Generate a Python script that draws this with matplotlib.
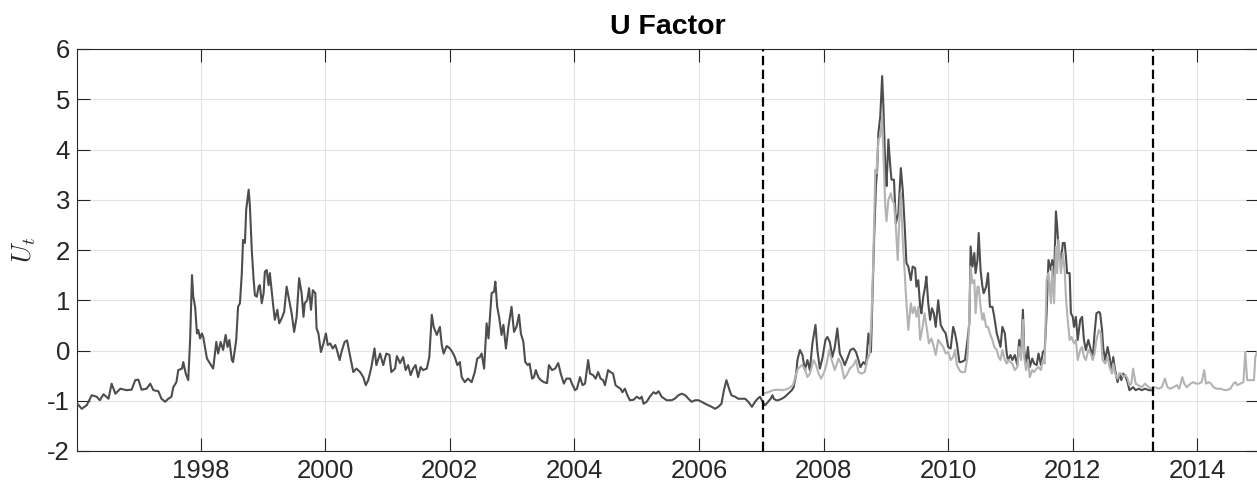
import matplotlib
matplotlib.use("Agg")
import matplotlib.pyplot as plt

# dark series: full-sample estimate (decimal years, U_t)
dark_years = [
    1996.02, 1996.09, 1996.17, 1996.25, 1996.33, 1996.38, 1996.44, 1996.52, 1996.57, 1996.63,
    1996.71, 1996.81, 1996.89, 1996.95, 1997.00, 1997.05, 1997.13, 1997.19, 1997.24, 1997.32,
    1997.37, 1997.43, 1997.48, 1997.53, 1997.56, 1997.61, 1997.64, 1997.70, 1997.72, 1997.76,
    1997.80, 1997.83, 1997.86, 1997.88, 1997.91, 1997.94, 1997.96, 1997.99, 1998.02, 1998.04,
    1998.10, 1998.15, 1998.20, 1998.25, 1998.28, 1998.32, 1998.36, 1998.40, 1998.43, 1998.46,
    1998.50, 1998.52, 1998.57, 1998.60, 1998.63, 1998.66, 1998.68, 1998.71, 1998.73, 1998.77,
    1998.79, 1998.82, 1998.85, 1998.87, 1998.90, 1998.93, 1998.95, 1998.98, 1999.01, 1999.03,
    1999.06, 1999.09, 1999.11, 1999.16, 1999.19, 1999.23, 1999.26, 1999.30, 1999.34, 1999.38,
    1999.42, 1999.46, 1999.50, 1999.54, 1999.58, 1999.62, 1999.65, 1999.67, 1999.71, 1999.74,
    1999.77, 1999.80, 1999.84, 1999.86, 1999.89, 1999.93, 1999.97, 2000.01, 2000.04, 2000.08,
    2000.12, 2000.16, 2000.18, 2000.23, 2000.26, 2000.31, 2000.35, 2000.39, 2000.45, 2000.50,
    2000.56, 2000.61, 2000.65, 2000.69, 2000.74, 2000.79, 2000.82, 2000.88, 2000.93, 2000.98,
    2001.03, 2001.06, 2001.12, 2001.15, 2001.20, 2001.25, 2001.29, 2001.33, 2001.37, 2001.41,
    2001.45, 2001.49, 2001.53, 2001.57, 2001.63, 2001.67, 2001.71, 2001.74, 2001.79, 2001.84,
    2001.87, 2001.90, 2001.95, 2002.00, 2002.04, 2002.08, 2002.12, 2002.16, 2002.19, 2002.24,
    2002.29, 2002.35, 2002.40, 2002.44, 2002.48, 2002.51, 2002.55, 2002.59, 2002.62, 2002.67,
    2002.71, 2002.73, 2002.76, 2002.79, 2002.83, 2002.86, 2002.90, 2002.94, 2002.99, 2003.03,
    2003.07, 2003.11, 2003.14, 2003.18, 2003.21, 2003.25, 2003.28, 2003.32, 2003.35, 2003.38,
    2003.42, 2003.46, 2003.51, 2003.56, 2003.59, 2003.64, 2003.69, 2003.74, 2003.78, 2003.83,
    2003.87, 2003.93, 2003.96, 2004.01, 2004.04, 2004.09, 2004.13, 2004.17, 2004.22, 2004.25,
    2004.30, 2004.34, 2004.38, 2004.42, 2004.46, 2004.49, 2004.54, 2004.58, 2004.62, 2004.66,
    2004.70, 2004.74, 2004.77, 2004.81, 2004.85, 2004.89, 2004.95, 2005.00, 2005.05, 2005.08,
    2005.11, 2005.16, 2005.21, 2005.27, 2005.31, 2005.35, 2005.40, 2005.48, 2005.56, 2005.61,
    2005.67, 2005.72, 2005.78, 2005.83, 2005.88, 2005.94, 2005.99, 2006.04, 2006.10, 2006.15,
    2006.20, 2006.26, 2006.31, 2006.36, 2006.40, 2006.44, 2006.49, 2006.52, 2006.58, 2006.63,
    2006.68, 2006.74, 2006.79, 2006.85, 2006.90, 2006.94, 2006.98, 2007.02, 2007.06, 2007.11,
    2007.15, 2007.18, 2007.20, 2007.24, 2007.27, 2007.33, 2007.38, 2007.43, 2007.49, 2007.52,
    2007.56, 2007.58, 2007.62, 2007.66, 2007.70, 2007.74, 2007.78, 2007.82, 2007.87, 2007.90,
    2007.94, 2007.98, 2008.03, 2008.06, 2008.10, 2008.14, 2008.18, 2008.22, 2008.26, 2008.31,
    2008.34, 2008.39, 2008.43, 2008.48, 2008.52, 2008.56, 2008.59, 2008.64, 2008.68, 2008.72,
    2008.76, 2008.78, 2008.81, 2008.84, 2008.86, 2008.88, 2008.91, 2008.94, 2008.96, 2008.99,
    2009.01, 2009.04, 2009.07, 2009.09, 2009.13, 2009.16, 2009.20, 2009.24, 2009.27, 2009.30,
    2009.33, 2009.36, 2009.40, 2009.43, 2009.47, 2009.49, 2009.52, 2009.55, 2009.57, 2009.60,
    2009.63, 2009.65, 2009.68, 2009.71, 2009.74, 2009.77, 2009.80, 2009.84, 2009.88, 2009.92,
    2009.96, 2010.00, 2010.04, 2010.08, 2010.11, 2010.14, 2010.18, 2010.21, 2010.27, 2010.31,
    2010.34, 2010.36, 2010.39, 2010.42, 2010.44, 2010.47, 2010.49, 2010.52, 2010.55, 2010.57,
    2010.61, 2010.64, 2010.67, 2010.71, 2010.74, 2010.78, 2010.81, 2010.84, 2010.87, 2010.91,
    2010.94, 2010.96, 2011.00, 2011.03, 2011.07, 2011.11, 2011.14, 2011.17, 2011.20, 2011.22,
    2011.25, 2011.28, 2011.31, 2011.35, 2011.38, 2011.42, 2011.45, 2011.49, 2011.52, 2011.55,
    2011.58, 2011.61, 2011.65, 2011.67, 2011.70, 2011.73, 2011.75, 2011.77, 2011.81, 2011.84,
    2011.87, 2011.89, 2011.91, 2011.95, 2011.97, 2012.00, 2012.02, 2012.05, 2012.08, 2012.12,
    2012.15, 2012.18, 2012.21, 2012.25, 2012.29, 2012.32, 2012.35, 2012.38, 2012.42, 2012.44,
    2012.47, 2012.49, 2012.52, 2012.56, 2012.59, 2012.63, 2012.65, 2012.68, 2012.72, 2012.75,
    2012.78, 2012.81, 2012.85, 2012.88, 2012.91, 2012.94, 2012.97, 2013.01, 2013.06, 2013.11,
    2013.16, 2013.22, 2013.29,
]
dark_vals = [
    -1.06, -1.16, -1.09, -0.89, -0.92, -0.99, -0.87, -0.96, -0.66, -0.86,
    -0.76, -0.79, -0.78, -0.59, -0.58, -0.78, -0.76, -0.66, -0.79, -0.81,
    -0.96, -1.02, -0.96, -0.92, -0.73, -0.63, -0.39, -0.36, -0.23, -0.46,
    -0.59, 0.21, 1.50, 1.07, 0.87, 0.34, 0.41, 0.24, 0.34, 0.27,
    -0.16, -0.26, -0.36, 0.17, -0.06, 0.17, 0.01, 0.31, 0.07, 0.21,
    -0.19, -0.23, 0.21, 0.87, 0.94, 1.54, 2.20, 2.14, 2.80, 3.20,
    2.87, 2.00, 1.40, 1.10, 1.07, 1.27, 1.30, 0.94, 1.14, 1.57,
    1.60, 1.30, 1.54, 0.94, 0.61, 0.81, 0.54, 0.64, 0.77, 1.27,
    1.00, 0.74, 0.37, 0.67, 1.44, 1.14, 0.67, 0.94, 1.00, 1.24,
    0.81, 1.20, 1.14, 0.44, 0.34, -0.03, 0.14, 0.34, 0.11, 0.14,
    0.04, 0.11, 0.04, -0.19, -0.03, 0.17, 0.20, -0.06, -0.43, -0.36,
    -0.43, -0.53, -0.69, -0.59, -0.33, 0.04, -0.29, -0.06, -0.29, -0.06,
    -0.09, -0.43, -0.36, -0.11, -0.25, -0.13, -0.39, -0.29, -0.49, -0.36,
    -0.29, -0.53, -0.33, -0.39, -0.36, -0.13, 0.71, 0.47, 0.31, 0.47,
    0.11, -0.06, 0.09, 0.04, -0.03, -0.13, -0.29, -0.23, -0.53, -0.63,
    -0.56, -0.63, -0.43, -0.16, -0.13, -0.06, -0.36, 0.54, 0.24, 1.14,
    1.17, 1.37, 0.87, 0.67, 0.31, 0.51, 0.04, 0.47, 0.87, 0.37,
    0.47, 0.71, 0.34, 0.17, -0.23, -0.29, -0.26, -0.56, -0.53, -0.39,
    -0.53, -0.59, -0.63, -0.65, -0.29, -0.39, -0.36, -0.25, -0.46, -0.66,
    -0.56, -0.56, -0.66, -0.79, -0.76, -0.53, -0.69, -0.66, -0.19, -0.46,
    -0.49, -0.56, -0.43, -0.56, -0.59, -0.69, -0.39, -0.43, -0.46, -0.69,
    -0.73, -0.76, -0.83, -0.76, -0.89, -0.99, -0.98, -0.92, -0.96, -0.92,
    -1.06, -1.02, -0.92, -0.83, -0.86, -0.81, -0.92, -0.99, -0.99, -0.96,
    -0.89, -0.86, -0.89, -0.96, -1.02, -0.99, -0.99, -1.02, -1.06, -1.09,
    -1.12, -1.16, -1.12, -1.06, -0.79, -0.59, -0.79, -0.89, -0.92, -0.96,
    -0.96, -0.96, -1.02, -1.12, -1.02, -0.96, -0.92, -1.02, -1.09, -1.02,
    -0.96, -0.89, -0.96, -0.99, -0.99, -0.96, -0.92, -0.86, -0.79, -0.73,
    -0.46, -0.19, 0.01, -0.09, -0.39, -0.19, -0.39, 0.14, 0.51, 0.01,
    -0.36, -0.16, 0.21, 0.27, 0.17, -0.13, 0.07, 0.44, -0.06, -0.19,
    -0.29, -0.13, 0.01, 0.04, -0.03, -0.19, -0.33, -0.23, -0.29, 0.34,
    -0.03, 0.87, 2.20, 3.27, 3.60, 4.33, 4.66, 5.46, 4.86, 3.67,
    3.27, 4.20, 3.67, 3.40, 3.40, 2.53, 2.73, 3.63, 3.20, 2.53,
    1.74, 1.67, 1.40, 1.67, 1.64, 1.27, 1.40, 0.87, 0.74, 1.07,
    1.27, 1.47, 0.94, 0.61, 0.84, 0.74, 0.47, 1.00, 0.51, 0.41,
    0.34, 0.07, 0.04, 0.47, 0.34, 0.14, -0.23, -0.23, -0.19, 0.21,
    0.54, 2.07, 1.67, 1.94, 1.54, 1.80, 2.34, 1.60, 1.27, 1.14,
    1.27, 1.54, 0.87, 0.87, 0.67, 0.34, 0.21, 0.07, 0.47, 0.34,
    -0.06, -0.19, -0.09, -0.19, -0.09, -0.29, 0.21, -0.06, 0.81, 0.01,
    -0.29, 0.07, -0.33, -0.16, -0.26, -0.29, -0.06, -0.29, -0.03, 0.01,
    0.74, 1.80, 1.60, 1.80, 1.44, 2.77, 2.47, 2.07, 1.74, 2.14,
    2.14, 1.87, 1.54, 1.54, 0.74, 0.67, 0.47, 0.67, 0.21, 0.61,
    0.67, 0.21, 0.01, 0.21, 0.01, -0.16, 0.34, 0.74, 0.77, 0.74,
    0.41, 0.04, -0.19, 0.07, -0.13, -0.39, -0.13, -0.39, -0.63, -0.46,
    -0.59, -0.46, -0.53, -0.63, -0.79, -0.76, -0.73, -0.79, -0.76, -0.79,
    -0.76, -0.79, -0.79,
]

# light series: recursive / out-of-sample estimate
light_years = [
    2007.03, 2007.11, 2007.19, 2007.27, 2007.35, 2007.43, 2007.51, 2007.56, 2007.59, 2007.65,
    2007.70, 2007.74, 2007.78, 2007.84, 2007.88, 2007.92, 2007.96, 2008.01, 2008.05, 2008.09,
    2008.13, 2008.18, 2008.24, 2008.28, 2008.33, 2008.37, 2008.42, 2008.48, 2008.52, 2008.56,
    2008.61, 2008.66, 2008.70, 2008.74, 2008.77, 2008.80, 2008.83, 2008.85, 2008.88, 2008.91,
    2008.94, 2008.96, 2008.99, 2009.01, 2009.04, 2009.08, 2009.10, 2009.13, 2009.16, 2009.19,
    2009.22, 2009.24, 2009.27, 2009.30, 2009.32, 2009.36, 2009.40, 2009.43, 2009.46, 2009.49,
    2009.52, 2009.55, 2009.59, 2009.62, 2009.66, 2009.69, 2009.73, 2009.77, 2009.80, 2009.84,
    2009.88, 2009.92, 2009.96, 2010.00, 2010.04, 2010.08, 2010.11, 2010.14, 2010.18, 2010.21,
    2010.27, 2010.31, 2010.34, 2010.36, 2010.39, 2010.42, 2010.44, 2010.47, 2010.49, 2010.52,
    2010.55, 2010.57, 2010.61, 2010.64, 2010.67, 2010.71, 2010.74, 2010.78, 2010.81, 2010.84,
    2010.87, 2010.91, 2010.94, 2010.96, 2011.00, 2011.03, 2011.07, 2011.11, 2011.14, 2011.17,
    2011.20, 2011.22, 2011.25, 2011.28, 2011.31, 2011.35, 2011.38, 2011.42, 2011.45, 2011.49,
    2011.52, 2011.55, 2011.58, 2011.61, 2011.65, 2011.67, 2011.70, 2011.73, 2011.75, 2011.77,
    2011.81, 2011.84, 2011.87, 2011.89, 2011.91, 2011.95, 2011.98, 2012.02, 2012.05, 2012.08,
    2012.12, 2012.15, 2012.18, 2012.21, 2012.25, 2012.29, 2012.32, 2012.35, 2012.38, 2012.42,
    2012.45, 2012.48, 2012.52, 2012.56, 2012.59, 2012.63, 2012.65, 2012.68, 2012.72, 2012.75,
    2012.78, 2012.81, 2012.85, 2012.88, 2012.91, 2012.94, 2012.97, 2013.01, 2013.05, 2013.11,
    2013.16, 2013.22, 2013.27, 2013.32, 2013.38, 2013.43, 2013.48, 2013.52, 2013.56, 2013.62,
    2013.67, 2013.71, 2013.76, 2013.79, 2013.83, 2013.89, 2013.94, 2013.98, 2014.02, 2014.07,
    2014.11, 2014.14, 2014.18, 2014.22, 2014.26, 2014.31, 2014.37, 2014.42, 2014.47, 2014.53,
    2014.58, 2014.61, 2014.64, 2014.69, 2014.74, 2014.77, 2014.80, 2014.85, 2014.91, 2014.93,
    2014.96,
]
light_vals = [
    -0.86, -0.83, -0.79, -0.78, -0.79, -0.76, -0.69, -0.46, -0.36, -0.29,
    -0.36, -0.53, -0.46, -0.19, -0.29, -0.46, -0.56, -0.43, -0.26, 0.01,
    -0.19, -0.39, -0.16, -0.26, -0.56, -0.49, -0.36, -0.29, -0.19, -0.43,
    -0.46, -0.43, -0.19, -0.06, 0.67, 1.87, 3.60, 3.53, 4.20, 4.26,
    4.66, 3.93, 2.87, 2.57, 3.00, 3.13, 3.00, 2.93, 2.47, 1.80,
    2.73, 3.13, 2.20, 1.60, 1.14, 0.41, 0.94, 0.74, 0.87, 0.67,
    0.87, 0.21, 0.47, 0.74, 0.41, 0.14, 0.24, 0.07, -0.09, 0.21,
    0.14, 0.07, -0.06, -0.03, -0.19, -0.13, 0.01, -0.29, -0.39, -0.43,
    -0.43, -0.13, 0.67, 1.67, 1.34, 1.40, 0.74, 1.27, 1.27, 0.87,
    0.61, 0.74, 0.47, 0.47, 0.34, 0.21, 0.07, 0.01, -0.13, -0.19,
    0.01, -0.19, -0.26, -0.19, -0.23, -0.26, -0.39, -0.33, 0.07, -0.19,
    0.61, -0.13, -0.39, -0.19, -0.53, -0.39, -0.43, -0.36, -0.33, -0.39,
    -0.19, -0.26, 1.40, 1.54, 0.94, 1.67, 0.94, 2.07, 1.54, 2.20,
    1.54, 1.94, 1.60, 1.07, 0.74, 0.21, 0.27, 0.14, 0.21, -0.19,
    0.01, 0.07, -0.13, -0.19, 0.01, -0.06, -0.19, -0.06, 0.21, 0.41,
    0.34, -0.19, -0.26, -0.13, -0.33, -0.46, -0.26, -0.46, -0.56, -0.46,
    -0.46, -0.53, -0.49, -0.56, -0.69, -0.66, -0.36, -0.66, -0.69, -0.73,
    -0.66, -0.73, -0.76, -0.73, -0.76, -0.73, -0.56, -0.73, -0.76, -0.73,
    -0.69, -0.76, -0.53, -0.66, -0.73, -0.66, -0.63, -0.66, -0.66, -0.63,
    -0.39, -0.66, -0.63, -0.66, -0.73, -0.76, -0.76, -0.78, -0.79, -0.76,
    -0.66, -0.63, -0.69, -0.66, -0.63, -0.03, -0.59, -0.59, -0.59, -0.13,
    -0.03,
]

split_dates = [2007.03, 2013.29]
year_ticks = [1998, 2000, 2002, 2004, 2006, 2008, 2010, 2012, 2014]
value_ticks = [-2, -1, 0, 1, 2, 3, 4, 5, 6]

plt.rcParams['font.family'] = ['Liberation Sans', 'DejaVu Sans']
plt.rcParams['mathtext.fontset'] = 'cm'
plt.rcParams['axes.unicode_minus'] = False

ink = '#262626'

fig = plt.figure(figsize=(12.57, 4.83), dpi=100)
ax = fig.add_axes([77 / 1257, 1 - 451 / 483, 1181.5 / 1257, 402 / 483])

ax.plot(dark_years, dark_vals, color='#4d4d4d', lw=1.5, zorder=3)
ax.plot(light_years, light_vals, color='#b3b3b3', lw=1.5, zorder=4)
for d in split_dates:
    ax.axvline(d, color='black', lw=1.6, linestyle=(0, (4.2, 2.0)), zorder=5)

ax.set_xlim(1996.014, 2014.982)
ax.set_ylim(-2, 6)
ax.set_xticks(year_ticks)
ax.set_yticks(value_ticks)
ax.grid(True, color='#e3e3e3', lw=0.8)
ax.set_axisbelow(True)

for s in ax.spines.values():
    s.set_color(ink)
    s.set_linewidth(0.8)
# the right edge of the box is cut off in the original picture
ax.spines['right'].set_visible(False)
ax.tick_params(direction='in', top=True, right=True, length=9.5, width=0.8,
               color=ink, labelcolor=ink, labelsize=18.5)
ax.tick_params(axis='x', pad=6)
ax.tick_params(axis='y', pad=5)

ax.set_title('U Factor', fontsize=20.5, fontweight='bold', pad=11, color='black')
ax.set_ylabel('$U_t$', fontsize=19, color=ink)
ax.yaxis.set_label_coords(-0.033, 0.5)

fig.savefig('out.png', dpi=100)
